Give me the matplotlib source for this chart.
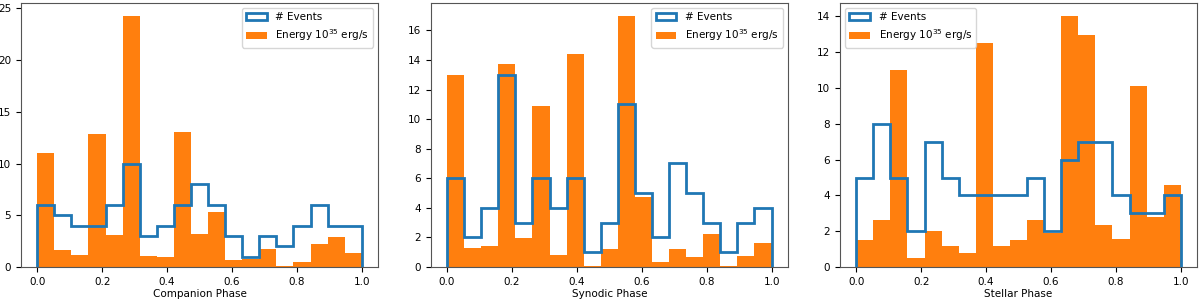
import numpy as np
import matplotlib
matplotlib.use("Agg")
import matplotlib.pyplot as plt

# === Données (19 bins entre 0 et 1) ===
N_BINS = 19

companion_events = [6, 5, 4, 4, 6, 10, 3, 4, 6, 8, 6, 3, 1, 3, 2, 4, 6, 4, 4]
companion_energy = [11.0, 1.6, 1.15, 12.85, 3.1, 24.3, 1.05, 0.95, 13.0, 3.2,
                    5.3, 0.65, 0.75, 1.7, 0.1, 0.5, 2.2, 2.9, 1.35]

synodic_events = [6, 2, 4, 13, 3, 6, 4, 6, 1, 3, 11, 5, 2, 7, 5, 3, 1, 3, 4]
synodic_energy = [12.95, 1.3, 1.45, 13.7, 1.95, 10.9, 0.8, 14.4, 0.1, 1.2,
                  17.0, 4.75, 0.35, 1.25, 0.7, 2.2, 0.1, 0.75, 1.65]

stellar_events = [5, 8, 5, 2, 7, 5, 4, 4, 4, 4, 5, 2, 6, 7, 7, 4, 3, 3, 4]
stellar_energy = [1.5, 2.65, 11.0, 0.5, 2.0, 1.15, 0.8, 12.5, 1.2, 1.5,
                  2.6, 1.9, 14.05, 12.95, 2.35, 1.55, 10.1, 2.8, 4.6]

x_labels = ["Companion Phase", "Synodic Phase", "Stellar Phase"]
legend_locs = ["upper right", "upper right", "upper left"]

plt.rcParams["font.size"] = 7.5

fig = plt.figure(figsize=(12, 3.01), dpi=100)
lefts = [0.0175, 0.359, 0.700]
edges = np.linspace(0, 1, N_BINS + 1)

panels = [
    (companion_events, companion_energy),
    (synodic_events, synodic_energy),
    (stellar_events, stellar_energy),
]

for left, (events, energy), xlabel, loc in zip(lefts, panels, x_labels, legend_locs):
    ax = fig.add_axes([left, 0.113, 0.2975, 0.877])
    ax.hist(edges[:-1], bins=edges, weights=events, histtype="step",
            linewidth=2, color="C0", label="# Events", zorder=3)
    ax.hist(edges[:-1], bins=edges, weights=energy, color="C1",
            label="Energy $10^{35}$ erg/s", zorder=2)
    ax.set_xlabel(xlabel, labelpad=2)
    ax.legend(loc=loc)
    for sp in ax.spines.values():
        sp.set_color("#555555")

fig.savefig("out.png", dpi=100)
